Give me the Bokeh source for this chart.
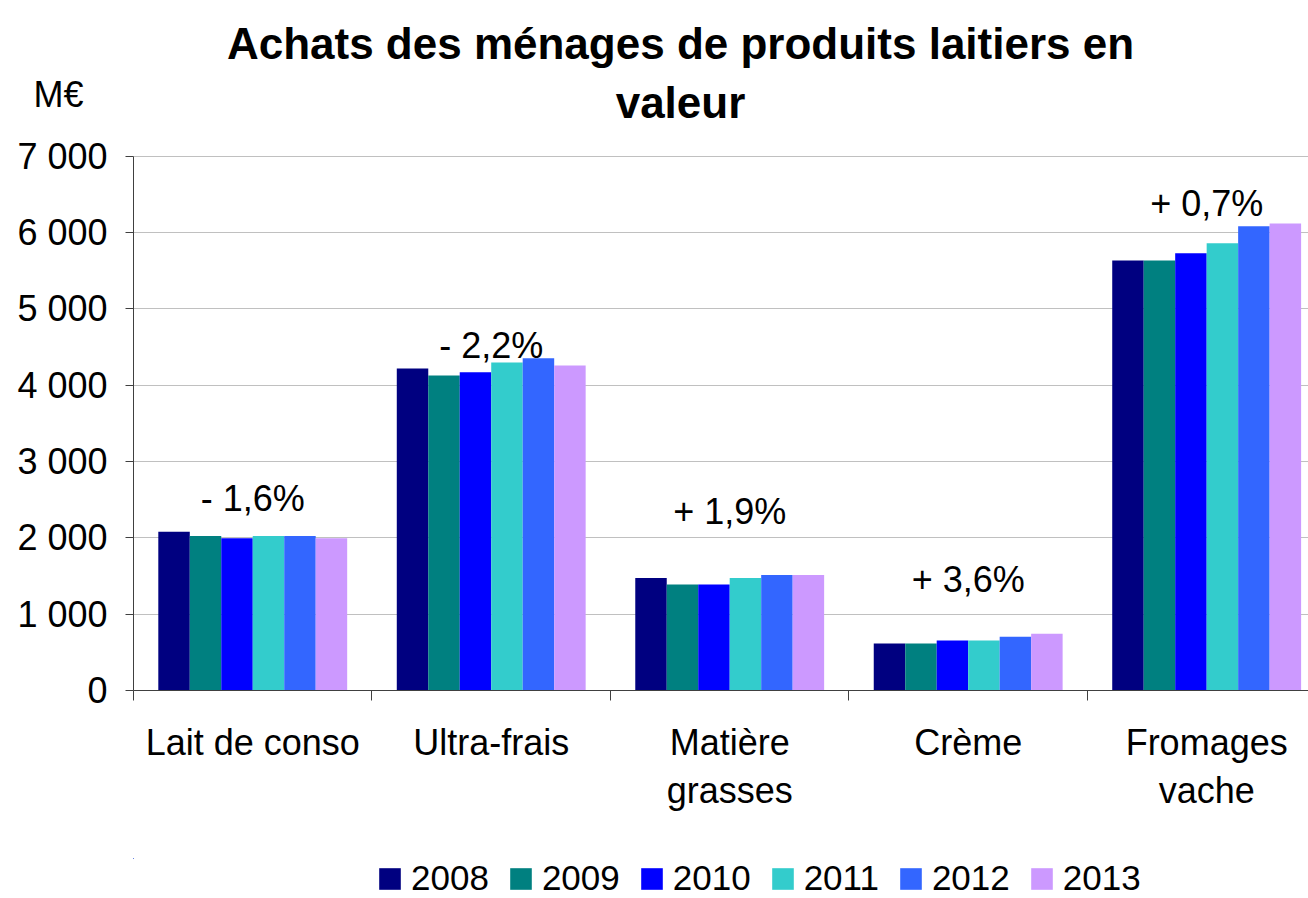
from bokeh.plotting import figure
from bokeh.models import Range1d, FixedTicker, Legend, LegendItem, LinearAxis, ColumnDataSource
from bokeh.layouts import column
from bokeh.transform import dodge
from bokeh.core.properties import value
from bokeh.embed import file_html
from bokeh.resources import INLINE

categories = ["Lait de conso", "Ultra-frais", "Matière\ngrasses", "Crème", "Fromages\nvache"]
years = ["2008", "2009", "2010", "2011", "2012", "2013"]
v2008 = [2080, 4220, 1475, 615, 5635]
v2009 = [2025, 4130, 1390, 615, 5635]
v2010 = [1995, 4170, 1390, 655, 5730]
v2011 = [2025, 4300, 1475, 655, 5860]
v2012 = [2025, 4355, 1515, 705, 6085]
v2013 = [1995, 4260, 1515, 745, 6120]
changes = ["- 1,6%", "- 2,2%", "+ 1,9%", "+ 3,6%", "+ 0,7%"]
change_label_y = [2520, 4525, 2350, 1450, 6385]
yticks = [0, 1000, 2000, 3000, 4000, 5000, 6000, 7000]
ytick_labels = ["0", "1 000", "2 000", "3 000", "4 000", "5 000", "6 000", "7 000"]
title_lines = ["Achats des ménages de produits laitiers en", "valeur"]
unit_label = "M€"
colors = ["#000080", "#008080", "#0000FF", "#33CCCC", "#3366FF", "#CC99FF"]

FONT = "Liberation Sans"
W = 1308
LEFT = 133
HEADER_H, MAIN_H, FOOTER_H = 133, 725, 40

cx = [i + 0.5 for i in range(len(categories))]
series = [v2008, v2009, v2010, v2011, v2012, v2013]
data = dict(x=cx, change=changes, cy=change_label_y)
for yr, vals in zip(years, series):
    data["v" + yr] = vals
src = ColumnDataSource(data)

def bare(fig):
    fig.axis.visible = False
    fig.grid.visible = False
    fig.outline_line_color = None
    return fig

# ---- header: title (frame aligned with the chart frame, x in page pixels) ----
header = bare(figure(width=W, height=HEADER_H, x_range=Range1d(LEFT, W), y_range=Range1d(HEADER_H, 0),
                     output_backend="svg", toolbar_location=None, min_border=0))
header.text(x=[680, 680], y=[43, 102], text=title_lines, text_align="center",
            text_baseline="alphabetic", text_font=value(FONT), text_font_size="44px",
            text_font_style="bold", text_color="black")
# unit label drawn as the single tick label of a line-less axis on the header's left side
unit_axis = LinearAxis(ticker=FixedTicker(ticks=[94], minor_ticks=[]),
                       major_label_overrides={94: unit_label},
                       major_label_text_font=FONT, major_label_text_font_size="36px",
                       major_label_text_color="black", major_tick_line_color=None,
                       major_tick_out=0, major_tick_in=0, minor_tick_line_color=None,
                       axis_line_color=None, major_label_standoff=50)
header.add_layout(unit_axis, "left")

# ---- main chart ----
p = figure(width=W, height=MAIN_H, x_range=Range1d(0, 4.927), y_range=Range1d(0, 7300),
           output_backend="svg", toolbar_location=None, title=None,
           min_border_left=LEFT, min_border_right=0, min_border_top=0, min_border_bottom=168)
p.outline_line_color = None

bw = 0.132
renderers = []
for j, yr in enumerate(years):
    r = p.vbar(x=dodge("x", (j - 2.5) * bw, range=p.x_range), top="v" + yr, width=bw,
               source=src, fill_color=colors[j], line_color=None)
    renderers.append(r)

p.text(x="x", y="cy", text="change", source=src, text_align="center", text_baseline="alphabetic",
       text_font=value(FONT), text_font_size="36px", text_color="black")

p.xgrid.visible = False
p.ygrid.grid_line_color = "#c0c0c0"
p.ygrid.ticker = FixedTicker(ticks=yticks)

ya = p.yaxis[0]
ya.ticker = FixedTicker(ticks=yticks, minor_ticks=[])
ya.bounds = (0, 7000)
ya.major_label_overrides = {t: l for t, l in zip(yticks, ytick_labels)}
ya.major_label_text_font = FONT
ya.major_label_text_font_size = "36px"
ya.major_label_text_color = "black"
ya.major_tick_out = 8
ya.major_tick_in = 0
ya.minor_tick_line_color = None
ya.major_label_standoff = 18
ya.axis_line_color = "#404040"
ya.major_tick_line_color = "#404040"

first_lines = [c.split("\n")[0] for c in categories]
second_lines = [c.split("\n")[1] if "\n" in c else "" for c in categories]

xa = p.xaxis[0]
xa.ticker = FixedTicker(ticks=cx, minor_ticks=list(range(len(categories) + 1)))
xa.major_label_overrides = {c: n for c, n in zip(cx, first_lines)}
xa.major_label_text_font = FONT
xa.major_label_text_font_size = "36px"
xa.major_label_text_color = "black"
xa.major_tick_line_color = None
xa.major_tick_out = 0
xa.major_tick_in = 0
xa.minor_tick_out = 10
xa.minor_tick_in = 0
xa.minor_tick_line_color = "#404040"
xa.major_label_standoff = 21
xa.axis_line_color = "#404040"

xa2 = LinearAxis(ticker=FixedTicker(ticks=cx, minor_ticks=[]),
                 major_label_overrides={c: n for c, n in zip(cx, second_lines)},
                 major_label_text_font=FONT, major_label_text_font_size="36px",
                 major_label_text_color="black", major_tick_line_color=None,
                 major_tick_out=0, major_tick_in=0, minor_tick_line_color=None,
                 axis_line_color=None, major_label_standoff=4)
p.add_layout(xa2, "below")

# ---- footer: legend ----
footer = bare(figure(width=W, height=FOOTER_H, x_range=Range1d(LEFT, W), y_range=Range1d(-2, -1),
                     output_backend="svg", toolbar_location=None, min_border=0))
items = []
for j, yr in enumerate(years):
    r = footer.vbar(x="x", top="v" + yr, width=0.1, source=src, fill_color=colors[j], line_color=None)
    items.append(LegendItem(label=yr, renderers=[r]))
legend = Legend(items=items, orientation="horizontal", location=(243, 0),
                glyph_width=27, glyph_height=27, label_text_font=FONT, label_text_font_size="35px",
                label_text_color="black", label_standoff=8, spacing=18, padding=0, margin=0,
                border_line_color=None, background_fill_alpha=0)
footer.add_layout(legend, "center")

layout = column(header, p, footer, spacing=0)
open("out.html", "w").write(file_html(layout, INLINE))
